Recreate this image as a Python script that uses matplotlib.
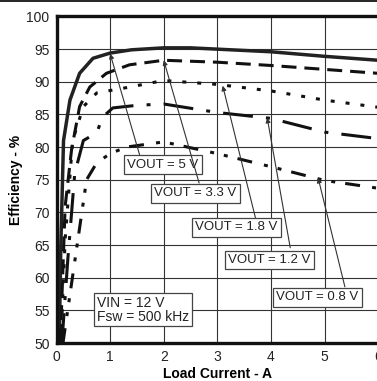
import matplotlib
matplotlib.use("Agg")
import matplotlib.pyplot as plt
from matplotlib.lines import Line2D

plt.rcParams["font.family"] = ["Liberation Sans", "DejaVu Sans"]

# efficiency curves
x_5v = [0.05, 0.08, 0.13, 0.25, 0.43, 0.68, 1.0, 1.4, 2.0, 2.5, 3.0, 4.0, 5.0, 6.0]
y_5v = [50, 65, 81, 87.2, 91.3, 93.6, 94.4, 94.9, 95.2, 95.2, 95.0, 94.6, 93.9, 93.3]

x_3v3 = [0.07, 0.16, 0.28, 0.43, 0.62, 0.93, 1.36, 2.0, 3.0, 4.0, 5.0, 6.0]
y_3v3 = [50, 70.9, 79.6, 86.2, 89.2, 91.3, 92.6, 93.3, 93.0, 92.5, 91.9, 91.3]

x_1v8 = [0.08, 0.16, 0.3, 0.5, 0.75, 1.3, 2.0, 3.0, 4.0, 5.0, 6.0]
y_1v8 = [50, 65.8, 81, 86.2, 88.3, 89.1, 90.2, 89.6, 88.6, 87.2, 86.1]

x_1v2 = [0.1, 0.21, 0.34, 0.5, 0.75, 0.86, 1.05, 1.5, 2.0, 3.0, 4.0, 5.0, 6.0]
y_1v2 = [50, 62.8, 76, 81, 82.2, 84.6, 86, 86.4, 86.6, 85.3, 84.4, 82.3, 81.3]

x_0v8 = [0.12, 0.19, 0.56, 0.75, 1.0, 1.3, 2.0, 3.0, 4.0, 5.0, 6.0]
y_0v8 = [50, 54, 75, 77.6, 79, 80, 80.8, 79, 77, 74.9, 73.7]

labels = ["VOUT = 5 V", "VOUT = 3.3 V", "VOUT = 1.8 V", "VOUT = 1.2 V", "VOUT = 0.8 V"]
arrow_heads = [(1.0, 94.3), (2.0, 93.3), (3.1, 89.4), (3.93, 84.5), (4.88, 75.3)]
arrow_tails = [(1.55, 78.8), (2.66, 74.5), (3.71, 69.2), (4.36, 64.6), (5.38, 58.6)]
box_centers = [(1.98, 77.3), (2.59, 72.9), (3.35, 67.7), (3.97, 62.7), (4.87, 57.0)]

xticks = [0, 1, 2, 3, 4, 5, 6]
yticks = list(range(50, 101, 5))

fig = plt.figure(figsize=(3.77, 3.81), dpi=100)
ax = fig.add_axes([0.150, 0.0997, 0.853, 0.857])

lw = 2.2
ax.plot(x_5v, y_5v, color="#222", lw=lw + 0.3, solid_capstyle="butt")
ax.plot(x_3v3, y_3v3, color="#111", lw=lw, dashes=(4.9, 2.6), dash_capstyle="butt")
ax.plot(x_1v8, y_1v8, color="#111", lw=lw, dashes=(1.3, 3.6), dash_capstyle="butt")
ax.plot(x_1v2, y_1v2, color="#111", lw=lw, dashes=(9.8, 4.3, 1.3, 4.3), dash_capstyle="butt")
ax.plot(x_0v8, y_0v8, color="#111", lw=lw, dashes=(4.9, 4.0, 1.3, 3.3, 1.3, 3.3),
        dash_capstyle="butt")

for text, head, tail, c in zip(labels, arrow_heads, arrow_tails, box_centers):
    ax.annotate("", xy=head, xytext=tail,
                arrowprops=dict(arrowstyle="-|>", color="#333", lw=0.8,
                                mutation_scale=7, shrinkA=0, shrinkB=0))
    ax.text(c[0], c[1], text, ha="center", va="center", fontsize=9.5, color="#222",
            bbox=dict(boxstyle="square,pad=0.25", fc="white", ec="#444", lw=0.9))

ax.text(1.61, 55.1, "VIN = 12 V\nFsw = 500 kHz", ha="center", va="center",
        fontsize=10, color="#222", linespacing=1.0, multialignment="left",
        bbox=dict(boxstyle="square,pad=0.2", fc="white", ec="#444", lw=0.9))

ax.set_xlim(0, 6)
ax.set_ylim(50, 100)
ax.set_xticks(xticks)
ax.set_yticks(yticks)
ax.grid(True, color="#333", lw=0.8)
ax.set_axisbelow(True)
ax.tick_params(length=0, labelsize=10, colors="#222")
ax.tick_params(axis="y", pad=5)
ax.tick_params(axis="x", pad=5)
for side in ["left", "bottom", "top"]:
    ax.spines[side].set_linewidth(2.4)
    ax.spines[side].set_color("#111")

ax.set_xlabel("Load Current - A", fontsize=10, fontweight="bold", labelpad=2)
ax.set_ylabel("Efficiency - %", fontsize=10, fontweight="bold")
ax.yaxis.set_label_coords(-0.104, 0.5)

fig.add_artist(Line2D([0, 1], [0.997, 0.997], color="black", lw=1.2))

fig.savefig("out.png", dpi=100)
